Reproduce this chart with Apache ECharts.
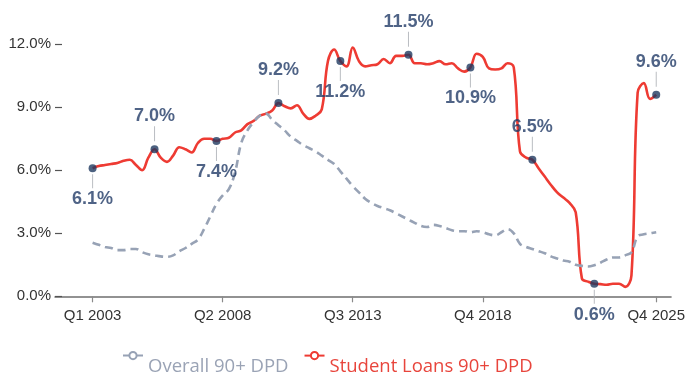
<!DOCTYPE html>
<html>
<head>
<meta charset="utf-8">
<script src="https://cdn.jsdelivr.net/npm/echarts@6/dist/echarts.min.js"></script>
<style>html,body{margin:0;padding:0;background:#fff;}#c{width:688px;height:374px;}</style>
</head>
<body>
<div id="c"></div>
<script>
// Quarter index 0 = Q1 2003 ... 91 = Q4 2025
const startYear = 2003;
const categories = [];
for (let i = 0; i < 92; i++) categories.push('Q' + (i % 4 + 1) + ' ' + (startYear + Math.floor(i / 4)));

const studentLoan = [
  6.1, 6.2, 6.25, 6.3, 6.35, 6.45, 6.5, 6.25, 6.0, 6.6,
  7.0, 6.6, 6.4, 6.7, 7.1, 7.0, 6.85, 7.3, 7.5, 7.5,
  7.4, 7.5, 7.55, 7.8, 7.9, 8.2, 8.35, 8.6, 8.7, 8.85,
  9.2, 9.05, 8.95, 9.1, 8.7, 8.45, 8.6, 8.9, 11.2, 11.75,
  11.2, 10.95, 11.85, 11.2, 10.95, 11.0, 11.05, 11.3, 11.1, 11.45,
  11.45, 11.5, 11.1, 11.1, 11.05, 11.1, 11.2, 11.05, 11.1, 10.85,
  10.7, 10.9, 11.55, 11.4, 10.85, 10.8, 10.85, 11.1, 10.9, 6.9,
  6.6, 6.5, 6.1, 5.7, 5.3, 4.95, 4.7, 4.45, 4.0, 0.85,
  0.7, 0.6, 0.58, 0.55, 0.6, 0.6, 0.45, 1.0, 9.7, 10.15,
  9.4, 9.6
];
const overall = [
  2.55, 2.45, 2.35, 2.3, 2.2, 2.2, 2.25, 2.25, 2.1, 2.0,
  1.95, 1.9, 1.88, 1.95, 2.15, 2.3, 2.5, 2.7, 3.2, 3.8,
  4.4, 4.8, 5.1, 5.9, 7.3, 7.9, 8.3, 8.6, 8.7, 8.4,
  8.15, 7.9, 7.6, 7.4, 7.2, 7.05, 6.9, 6.7, 6.5, 6.3,
  5.95, 5.6, 5.25, 4.95, 4.65, 4.45, 4.3, 4.2, 4.1, 3.95,
  3.8, 3.65, 3.5, 3.35, 3.3, 3.4, 3.35, 3.25, 3.15, 3.1,
  3.1, 3.05, 3.1, 3.05, 2.95, 2.9, 3.05, 3.2, 3.0, 2.5,
  2.35, 2.25, 2.15, 2.05, 1.9, 1.8, 1.7, 1.65, 1.5, 1.45,
  1.42, 1.48, 1.6, 1.75, 1.85, 1.85, 1.95, 2.1, 2.85, 2.95,
  3.0, 3.05
];
const annotIdx = [0, 10, 20, 30, 40, 51, 61, 71, 81, 91];
const annotPos = ['bottom', 'top', 'bottom', 'top', 'bottom', 'top', 'bottom', 'top', 'bottom', 'top'];
const tickIdx = [0, 21, 42, 63, 91];

const seriesNames = ['Overall 90+ DPD', 'Student Loans 90+ DPD'];
const RED = '#ee3b33', GRAY = '#97a2b5', NAVY = '#1f3a60', LABEL = '#233c68';
const FONT = '"Liberation Sans", Arial, sans-serif';

const annotData = annotIdx.map((i, k) => ({
  value: [i, studentLoan[i]],
  label: {
    show: true,
    position: annotPos[k],
    distance: annotPos[k] === 'top' ? 4 : 2,
    formatter: annotPos[k] === 'top'
      ? '{v|' + studentLoan[i].toFixed(1) + '%}\n{l|}'
      : '{l|}\n{v|' + studentLoan[i].toFixed(1) + '%}',
    rich: {
      v: { fontFamily: FONT, fontWeight: 'bold', fontSize: 18, color: LABEL, lineHeight: annotPos[k] === 'top' ? 20 : 22, align: 'center' },
      l: { width: 1, height: annotPos[k] === 'top' ? 15 : 14, backgroundColor: '#a9acb3', align: 'center' }
    }
  }
}));

const chart = echarts.init(document.getElementById('c'), null, { renderer: 'canvas' });
chart.setOption({
  animation: false,
  grid: { left: 55, right: 16, top: 44.3, bottom: 77.7 },
  xAxis: {
    type: 'value',
    min: -6.07,
    max: 93.4,
    splitLine: { show: false },
    axisLine: { show: true, onZero: false, lineStyle: { color: '#6f6f6f', width: 1.5 } },
    axisTick: { show: true, customValues: tickIdx, length: 6, lineStyle: { color: '#8a8a8a', width: 1.2 } },
    axisLabel: {
      customValues: tickIdx,
      formatter: v => categories[Math.round(v)],
      fontFamily: FONT, fontSize: 15, color: '#333', margin: 12
    }
  },
  yAxis: {
    type: 'value',
    min: 0, max: 12, interval: 3,
    splitLine: { show: false },
    axisLine: { show: false, onZero: false },
    axisTick: { show: true, inside: true, length: 7, lineStyle: { color: '#555', width: 1.2 } },
    axisLabel: { formatter: v => v.toFixed(1) + '%', fontFamily: FONT, fontSize: 15, color: '#333', margin: 4 }
  },
  legend: {
    left: 117, top: 346,
    itemWidth: 20, itemHeight: 9, itemGap: 15,
    data: [
      { name: seriesNames[0], textStyle: { color: '#9aa3b5' } },
      { name: seriesNames[1], textStyle: { color: '#e8453c' } }
    ],
    formatter: name => '{t|' + name + '}',
    textStyle: {
      fontFamily: '"Open Sans", sans-serif', fontSize: 18.5,
      rich: { t: { fontFamily: '"Open Sans", sans-serif', fontSize: 18.5, padding: [22, 0, 0, 0] } }
    }
  },
  series: [
    {
      name: seriesNames[1], type: 'line', z: 2,
      data: studentLoan.map((v, i) => [i, v]),
      smooth: 0.4, showSymbol: false, symbol: 'emptyCircle', symbolSize: 6,
      lineStyle: { color: RED, width: 2.6 }, itemStyle: { color: RED }
    },
    {
      name: seriesNames[0], type: 'line', z: 3,
      data: overall.map((v, i) => [i, v]),
      smooth: 0.4, showSymbol: false, symbol: 'emptyCircle', symbolSize: 6,
      lineStyle: { color: GRAY, width: 2.6, type: [8, 5] }, itemStyle: { color: GRAY }
    },
    {
      name: 'annot', type: 'scatter', z: 5,
      symbol: 'circle', symbolSize: 8,
      itemStyle: { color: NAVY },
      data: annotData
    }
  ]
});
</script>
</body>
</html>
